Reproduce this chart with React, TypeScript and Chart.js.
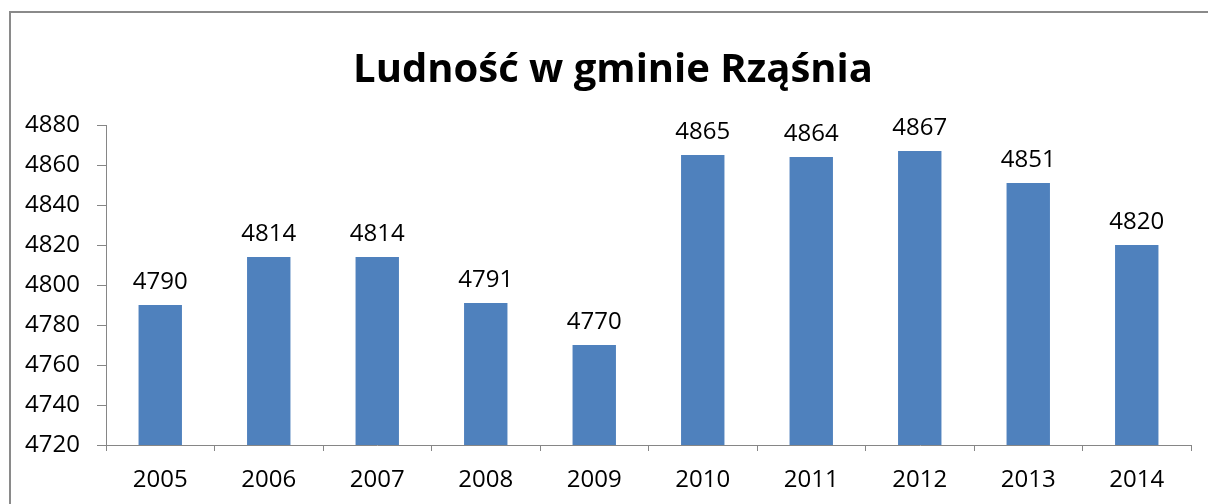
import React, { useEffect, useRef } from "react";
import { Chart, registerables } from "chart.js";

Chart.register(...registerables);

const TITLE = "Ludność w gminie Rząśnia";
const categories = ["2005", "2006", "2007", "2008", "2009", "2010", "2011", "2012", "2013", "2014"];
const population = [4790, 4814, 4814, 4791, 4770, 4865, 4864, 4867, 4851, 4820];
const yMin = 4720;
const yMax = 4880;
const yStep = 20;

const FONT = "'Open Sans', 'Noto Sans', sans-serif";
const BAR = "#4F81BD";
const AXIS = "#868686";

const labelPlugin = {
  id: "valueLabels",
  afterDatasetsDraw(chart: any) {
    const ctx = chart.ctx;
    const meta = chart.getDatasetMeta(0);
    ctx.save();
    ctx.font = `24px ${FONT}`;
    ctx.fillStyle = "#000";
    ctx.textAlign = "center";
    ctx.textBaseline = "alphabetic";
    meta.data.forEach((bar: any, i: number) => {
      ctx.fillText(String(population[i]), bar.x, bar.y - 16);
    });
    ctx.restore();
  },
};

const titlePlugin = {
  id: "centeredTitle",
  afterDraw(chart: any) {
    const ctx = chart.ctx;
    ctx.save();
    ctx.font = `bold 40px ${FONT}`;
    ctx.fillStyle = "#000";
    ctx.textAlign = "center";
    ctx.textBaseline = "alphabetic";
    ctx.fillText(TITLE, 613, 82);
    ctx.restore();
  },
};

export default function App() {
  const ref = useRef<HTMLCanvasElement>(null);
  useEffect(() => {
    if (!ref.current) return;
    const chart = new Chart(ref.current, {
      type: "bar",
      data: {
        labels: categories,
        datasets: [
          {
            data: population,
            backgroundColor: BAR,
            borderWidth: 0,
            barPercentage: 0.4,
            categoryPercentage: 1,
          },
        ],
      },
      options: {
        responsive: false,
        animation: false,
        layout: { padding: { top: 125, left: 0, right: 17, bottom: 0 } },
        plugins: {
          legend: { display: false },
          tooltip: { enabled: false },
          title: { display: false },
        },
        scales: {
          x: {
            grid: {
              offset: true,
              drawOnChartArea: false,
              drawTicks: true,
              tickLength: 6,
              color: AXIS,
            },
            border: { display: true, color: AXIS, width: 1 },
            ticks: { color: "#000", font: { family: FONT, size: 24 }, padding: 15, maxRotation: 0 },
            afterFit: (s: any) => {
              s.height = 59;
            },
          },
          y: {
            min: yMin,
            max: yMax,
            grid: {
              drawOnChartArea: false,
              drawTicks: true,
              tickLength: 9,
              color: AXIS,
            },
            border: { display: true, color: AXIS, width: 1 },
            ticks: {
              stepSize: yStep,
              color: "#000",
              font: { family: FONT, size: 24 },
              padding: 17,
              callback: (v: any) => String(v),
            },
            afterFit: (s: any) => {
              s.width = 106;
            },
          },
        },
      },
      plugins: [labelPlugin, titlePlugin],
    });
    return () => chart.destroy();
  }, []);

  return (
    <div
      style={{
        position: "absolute",
        left: 0,
        top: 0,
        width: 1208,
        height: 504,
        overflow: "hidden",
        background: "#fff",
      }}
    >
      <div
        style={{
          position: "absolute",
          left: 9,
          top: 11,
          width: 1400,
          height: 700,
          borderTop: "2px solid #8a8a8a",
          borderLeft: "2px solid #8a8a8a",
        }}
      />
      <canvas
        ref={ref}
        width={1208}
        height={504}
        style={{ position: "absolute", left: 0, top: 0, width: 1208, height: 504 }}
      />
    </div>
  );
}
